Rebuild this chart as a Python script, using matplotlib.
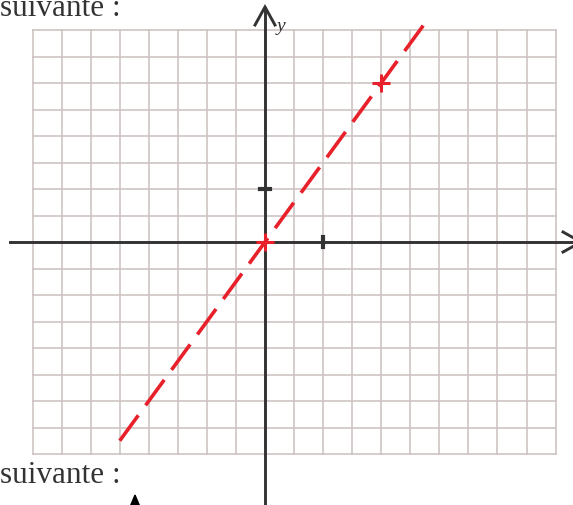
import matplotlib

matplotlib.use("Agg")
import matplotlib.pyplot as plt
import numpy as np

# grid extent (units; one cell = 0.5)
grid_x_min, grid_x_max = -4.0, 5.0
grid_y_min, grid_y_max = -4.0, 4.0
cell = 0.5

# dashed red line y = 1.5 x, drawn between these two points
line_x = [-2.5, 2.75]
line_y = [-3.75, 4.125]

# points marked with a cross
mark_x = [0, 2]
mark_y = [0, 3]

# unit ticks
tick_x = [1]
tick_y = [1]

caption = "suivante :"

GRID = "#cec4c4"
AXIS = "#333333"
RED = "#e8202a"

plt.rcParams["lines.scale_dashes"] = False

fig = plt.figure(figsize=(5.73, 5.06), dpi=100)
ax = fig.add_axes([0, 0, 1, 1])
ax.set_xlim(-4.560, 5.300)
ax.set_ylim(-4.962, 4.585)
ax.axis("off")

# grid
for gx in np.arange(grid_x_min, grid_x_max + 1e-9, cell):
    ax.plot([gx, gx], [grid_y_min, grid_y_max], color=GRID, lw=1.2, zorder=1)
for gy in np.arange(grid_y_min, grid_y_max + 1e-9, cell):
    ax.plot([grid_x_min, grid_x_max], [gy, gy], color=GRID, lw=1.2, zorder=1)

# axes with open arrow heads
ax.plot([-4.39, 5.43], [0, 0], color=AXIS, lw=2.1, zorder=2)
ax.plot([0, 0], [-5.1, 4.42], color=AXIS, lw=2.1, zorder=2)
ax.plot([-0.172, 0, 0.172], [4.094, 4.434, 4.094], color=AXIS, lw=2.1,
        solid_joinstyle="miter", zorder=2)
ax.plot([5.128, 5.438, 5.128], [0.189, 0, -0.189], color=AXIS, lw=2.1,
        solid_joinstyle="miter", zorder=2)
ax.text(0.205, 4.094, "y", fontsize=14, style="italic",
        family="Liberation Serif", color=AXIS, ha="left", va="center")

# unit ticks
for tx in tick_x:
    ax.plot([tx, tx], [-0.09, 0.09], color=AXIS, lw=3, zorder=3)
for ty in tick_y:
    ax.plot([-0.09, 0.09], [ty, ty], color=AXIS, lw=3, zorder=3)

# dashed line and marked points
ax.plot(line_x, line_y, color=RED, lw=2.6, linestyle=(0, (22.7, 8.9)),
        solid_capstyle="butt", dash_capstyle="butt", zorder=4)
ax.plot(mark_x, mark_y, linestyle="none", marker="+", markersize=13,
        markeredgewidth=2.2, color=RED, zorder=5)

# surrounding page text
ax.text(-4.56, 4.283, caption, fontsize=22.5, family="Liberation Serif",
        color=AXIS, ha="left", va="baseline")
ax.text(-4.56, -4.528, caption, fontsize=22.5, family="Liberation Serif",
        color=AXIS, ha="left", va="baseline")
ax.fill([-2.237, -2.323, -2.151], [-4.774, -5.0, -5.0], color="black", zorder=3)

fig.savefig("out.png", dpi=100)
